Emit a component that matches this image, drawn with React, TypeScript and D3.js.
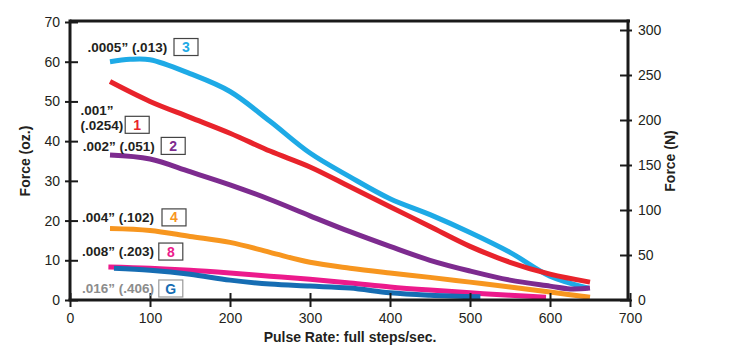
import { useRef, useEffect } from 'react'
import * as d3 from 'd3'

// Pulse rate (full steps/sec) vs force (oz.), one curve per step size
const series = [
  { key: '3', color: '#1eaae6', points: [[50, 60], [75, 60.6], [100, 60.5], [150, 57], [200, 52.5], [250, 45], [300, 37], [350, 31], [400, 25.5], [450, 21.5], [500, 17], [550, 12], [600, 6], [648, 3]] },
  { key: '1', color: '#e8232b', points: [[50, 55], [100, 50], [150, 46], [200, 42], [250, 37.5], [300, 33.5], [350, 28.5], [400, 23.5], [450, 18.5], [500, 13.5], [550, 9.5], [600, 6.5], [650, 4.5]] },
  { key: '2', color: '#7d2b8f', points: [[50, 36.5], [100, 35.5], [150, 32.3], [200, 29], [250, 25.3], [300, 21.2], [350, 17.2], [400, 13.5], [450, 10], [500, 7.3], [550, 5], [600, 3.5], [625, 2.8], [650, 3]] },
  { key: '4', color: '#f7961f', points: [[50, 18], [100, 17.5], [150, 16], [200, 14.5], [250, 12], [300, 9.5], [350, 8], [400, 6.8], [450, 5.7], [500, 4.5], [550, 3.3], [600, 2], [650, 0.7]] },
  { key: '8', color: '#ec1a8c', points: [[48, 8.3], [100, 8], [150, 7.5], [200, 6.8], [250, 6], [300, 5.2], [350, 4.3], [400, 3.3], [450, 2.5], [500, 1.8], [550, 1.2], [595, 0.7]] },
  { key: 'G', color: '#166db3', points: [[55, 8], [100, 7.5], [150, 6.5], [200, 5], [250, 4], [300, 3.5], [350, 3], [400, 1.8], [450, 1.2], [513, 0.8]] },
]

const labels = [
  { key: '3', lines: ['.0005\u201D (.013)'], textX: 22, y: 63.7, boxX: 130, boxColor: '#1eaae6', textColor: '#231f20', border: '#444' },
  { key: '1', lines: ['.001\u201D', '(.0254)'], textX: 13, y: 46, boxX: 69, boxColor: '#e8232b', textColor: '#231f20', border: '#444' },
  { key: '2', lines: ['.002\u201D (.051)'], textX: 16, y: 38.8, boxX: 114, boxColor: '#7d2b8f', textColor: '#231f20', border: '#444' },
  { key: '4', lines: ['.004\u201D (.102)'], textX: 15, y: 20.8, boxX: 115, boxColor: '#f7961f', textColor: '#231f20', border: '#444' },
  { key: '8', lines: ['.008\u201D (.203)'], textX: 15, y: 12.2, boxX: 111, boxColor: '#ec1a8c', textColor: '#231f20', border: '#444' },
  { key: 'G', lines: ['.016\u201D (.406)'], textX: 15, y: 2.9, boxX: 111, boxColor: '#166db3', textColor: '#8c8c8c', border: '#999' },
]

const xTicks = [0, 100, 200, 300, 400, 500, 600, 700]
const yTicksOz = [0, 10, 20, 30, 40, 50, 60, 70]
const yTicksN = [0, 50, 100, 150, 200, 250, 300]

const W = 729
const H = 364
const FONT = '"Liberation Sans", Arial, Helvetica, sans-serif'

export default function App() {
  const svgRef = useRef<SVGSVGElement>(null)

  useEffect(() => {
    if (!svgRef.current) return
    const svg = d3.select(svgRef.current)
    svg.selectAll('*').remove()

    const x = d3.scaleLinear().domain([0, 700]).range([70, 630])
    const y = d3.scaleLinear().domain([0, 70]).range([300, 22])
    const yN = d3.scaleLinear().domain([0, 300]).range([300, 30])

    const g = svg.append('g').attr('font-family', FONT)

    // curves
    const line = d3.line<number[]>().x((d) => x(d[0])).y((d) => y(d[1])).curve(d3.curveCatmullRom.alpha(0.5))
    for (const s of series) {
      g.append('path')
        .datum(s.points)
        .attr('fill', 'none')
        .attr('stroke', s.color)
        .attr('stroke-width', 5)
        .attr('d', line)
    }

    // frame top line
    g.append('line')
      .attr('x1', x(0)).attr('x2', x(700))
      .attr('y1', y(70) - 1).attr('y2', y(70) - 1)
      .attr('stroke', '#1a1a1a').attr('stroke-width', 3)

    // left axis
    g.append('g')
      .attr('transform', `translate(${x(0)},0)`)
      .call(d3.axisLeft(y).tickValues(yTicksOz).tickSize(5).tickPadding(5))
      .call((a) => a.select('.domain').attr('stroke', '#1a1a1a').attr('stroke-width', 3).attr('d', `M0,${y(0)}V${y(70) - 2.5}`))
      .call((a) => a.selectAll('.tick line').attr('x1', 8).attr('stroke', '#1a1a1a').attr('stroke-width', 2))
      .call((a) => a.selectAll('text').attr('fill', '#231f20').attr('font-size', '14px').attr('font-family', FONT))

    // right axis (N)
    g.append('g')
      .attr('transform', `translate(${x(700) - 2},0)`)
      .call(d3.axisRight(yN).tickValues(yTicksN).tickSize(4).tickPadding(6))
      .call((a) => a.select('.domain').attr('stroke', '#1a1a1a').attr('stroke-width', 3).attr('d', `M0,${y(0) + 1}V${y(70) - 2.5}`))
      .call((a) => a.selectAll('.tick line').attr('x1', -8).attr('stroke', '#1a1a1a').attr('stroke-width', 2))
      .call((a) => a.selectAll('text').attr('fill', '#231f20').attr('font-size', '14px').attr('font-family', FONT))

    // bottom axis
    g.append('g')
      .attr('transform', `translate(0,${y(0)})`)
      .call(d3.axisBottom(x).tickValues(xTicks).tickSize(7).tickPadding(6))
      .call((a) => a.select('.domain').attr('stroke', '#1a1a1a').attr('stroke-width', 3).attr('d', `M${x(0) - 1.5},0H${x(700)}`))
      .call((a) => a.selectAll('.tick line').attr('y1', -7).attr('stroke', '#1a1a1a').attr('stroke-width', 2))
      .call((a) => a.selectAll('text').attr('fill', '#231f20').attr('font-size', '14px').attr('font-family', FONT))

    // axis titles
    g.append('text')
      .attr('x', (x(0) + x(700)) / 2).attr('y', 342)
      .attr('text-anchor', 'middle').attr('font-size', '14px').attr('font-weight', 'bold').attr('fill', '#231f20')
      .text('Pulse Rate: full steps/sec.')

    g.append('text')
      .attr('transform', `translate(30,${(y(0) + y(70)) / 2}) rotate(-90)`)
      .attr('text-anchor', 'middle').attr('font-size', '14px').attr('font-weight', 'bold').attr('fill', '#231f20')
      .text('Force (oz.)')

    g.append('text')
      .attr('transform', `translate(675,${(y(0) + y(70)) / 2}) rotate(-90)`)
      .attr('text-anchor', 'middle').attr('font-size', '14px').attr('font-weight', 'bold').attr('fill', '#231f20')
      .text('Force (N)')

    // curve labels
    for (const l of labels) {
      const cy = y(l.y)
      const n = l.lines.length
      l.lines.forEach((t, i) => {
        g.append('text')
          .attr('x', x(l.textX)).attr('y', cy + (i - (n - 1) / 2) * 15)
          .attr('dy', '0.35em')
          .attr('font-size', '13.5px').attr('font-weight', 'bold').attr('fill', l.textColor)
          .text(t)
      })
      const by = n > 1 ? cy + 7.5 : cy
      g.append('rect')
        .attr('x', x(l.boxX)).attr('y', by - 8.5)
        .attr('width', 24).attr('height', 17)
        .attr('fill', 'white').attr('stroke', l.border).attr('stroke-width', 1.2)
      g.append('text')
        .attr('x', x(l.boxX) + 12).attr('y', by)
        .attr('dy', '0.36em').attr('text-anchor', 'middle')
        .attr('font-size', '14px').attr('font-weight', 'bold').attr('fill', l.boxColor)
        .text(l.key)
    }
  }, [])

  return (
    <div style={{ position: 'absolute', left: 0, top: 0, width: W, height: H, background: 'white' }}>
      <svg ref={svgRef} width={W} height={H} />
    </div>
  )
}
